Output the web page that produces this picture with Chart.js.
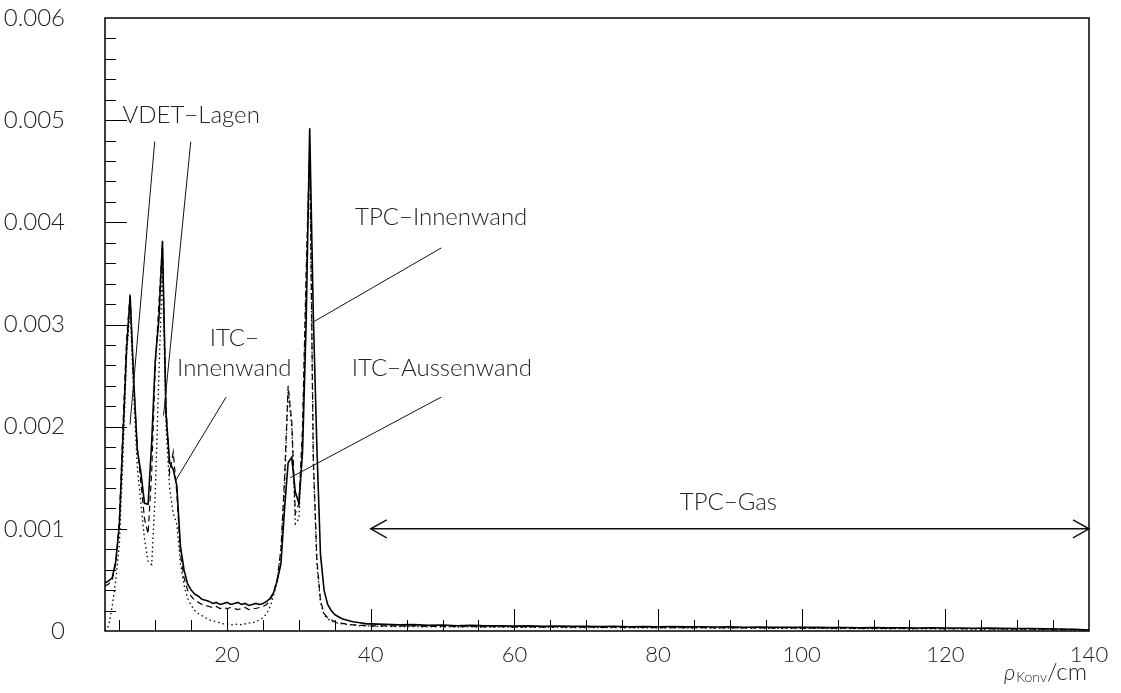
<!DOCTYPE html>
<html>
<head>
<meta charset="utf-8">
<script src="https://cdn.jsdelivr.net/npm/chart.js@4/dist/chart.umd.min.js"></script>
<style>
  html, body { margin: 0; padding: 0; background: #fff; }
  #wrap { width: 1121px; height: 693px; }
</style>
</head>
<body>
<div id="wrap"><canvas id="rhoChart"></canvas></div>
<script>
// rho_Konv bin centres (cm)
const rho = [
  3, 3.5, 4, 4.5, 5, 5.5, 6, 6.5, 7, 7.5, 8, 8.5, 9, 9.5, 10, 10.5, 11, 11.5, 12, 12.5,
  13, 13.5, 14, 14.5, 15, 15.5, 16, 16.5, 17, 17.5, 18, 18.5, 19, 19.5, 20, 20.5, 21, 21.5, 22, 22.5,
  23, 23.5, 24, 24.5, 25, 25.5, 26, 26.5, 27, 27.5, 28, 28.5, 29, 29.5, 30, 30.5, 31, 31.5, 32, 32.5,
  33, 33.5, 34, 34.5, 35, 35.5, 36, 36.5, 37, 37.5, 38, 38.5, 39, 39.5, 40,
  42, 44, 46, 48, 50, 52, 54, 56, 58, 60, 62, 64, 66, 68, 70, 72, 74, 76, 78, 80,
  82, 84, 86, 88, 90, 92, 94, 96, 98, 100, 102, 104, 106, 108, 110, 112, 114, 116, 118, 120,
  122, 124, 126, 128, 130, 132, 134, 136, 138, 140
];

// solid histogram
const solid = [
  0.00047, 0.00049, 0.00052, 0.00068, 0.00104, 0.00190, 0.00275, 0.00328, 0.00246, 0.00177,
  0.00155, 0.00125, 0.00124, 0.00185, 0.00265, 0.00305, 0.00382, 0.00212, 0.00165, 0.00158,
  0.00142, 0.00083, 0.00060, 0.00046, 0.00040, 0.00036, 0.00034, 0.00031, 0.00030, 0.00029,
  0.00027, 0.00028, 0.00026, 0.00027, 0.00028, 0.00026, 0.00027, 0.00028, 0.00026, 0.00027,
  0.00025, 0.00026, 0.00027, 0.00026, 0.00027, 0.00029, 0.00032, 0.00038, 0.00050, 0.00066,
  0.00120, 0.00165, 0.00170, 0.00136, 0.00125, 0.00175, 0.00300, 0.00492, 0.00310, 0.00180,
  0.00075, 0.00040, 0.00026, 0.00020, 0.00016, 0.00014, 0.00012, 0.00011, 0.00010, 0.00009,
  0.000085, 0.00008, 0.000075, 0.00007, 0.00007,
  0.000065, 0.00006, 0.000062, 0.000055, 0.000058, 0.000052, 0.000055, 0.00005, 0.000052, 0.000048,
  0.00005, 0.000046, 0.000048, 0.000045, 0.000047, 0.000044, 0.000045, 0.000042, 0.000044, 0.000041,
  0.000043, 0.00004, 0.000041, 0.000039, 0.00004, 0.000037, 0.000039, 0.000036, 0.000037, 0.000035,
  0.000036, 0.000033, 0.000034, 0.000032, 0.000033, 0.000031, 0.000032, 0.00003, 0.000031, 0.000029,
  0.00003, 0.000027, 0.000028, 0.000026, 0.000025, 0.000024, 0.000022, 0.00002, 0.000017, 0.00001
];

// dashed histogram
const dashed = [
  0.00044, 0.00046, 0.00050, 0.00066, 0.00110, 0.00200, 0.00285, 0.00330, 0.00240, 0.00180,
  0.00145, 0.00110, 0.00095, 0.00155, 0.00260, 0.00320, 0.00378, 0.00220, 0.00155, 0.00175,
  0.00135, 0.00075, 0.00052, 0.00040, 0.00034, 0.00030, 0.00028, 0.00026, 0.00025, 0.00024,
  0.00023, 0.00024, 0.00022, 0.00023, 0.00022, 0.00023, 0.00022, 0.00021, 0.00022, 0.00023,
  0.00021, 0.00022, 0.00022, 0.00023, 0.00024, 0.00026, 0.00030, 0.00038, 0.00052, 0.00080,
  0.00150, 0.00240, 0.00205, 0.00115, 0.00125, 0.00200, 0.00350, 0.00475, 0.00170, 0.00070,
  0.00030, 0.00017, 0.00013, 0.00011, 0.00009, 0.00008, 0.000075, 0.00007, 0.000065, 0.00006,
  0.00006, 0.000055, 0.000055, 0.00005, 0.00005,
  0.00005, 0.000048, 0.00005, 0.000045, 0.000047, 0.000043, 0.000045, 0.000041, 0.000043, 0.00004,
  0.000041, 0.000038, 0.00004, 0.000037, 0.000038, 0.000036, 0.000037, 0.000034, 0.000036, 0.000033,
  0.000034, 0.000032, 0.000033, 0.000031, 0.000032, 0.00003, 0.000031, 0.000029, 0.00003, 0.000028,
  0.000029, 0.000027, 0.000028, 0.000026, 0.000027, 0.000025, 0.000026, 0.000024, 0.000025, 0.000023,
  0.000024, 0.000022, 0.000022, 0.00002, 0.00002, 0.000018, 0.000017, 0.000015, 0.000012, 0.000008
];

// dotted histogram
const dotted = [
  0.00000, 0.00005, 0.00024, 0.00050, 0.00085, 0.00170, 0.00270, 0.00315, 0.00230, 0.00160,
  0.00125, 0.00090, 0.00068, 0.00065, 0.00135, 0.00250, 0.00355, 0.00200, 0.00140, 0.00115,
  0.00105, 0.00066, 0.00045, 0.00032, 0.00025, 0.00020, 0.00017, 0.00015, 0.00013, 0.00011,
  0.00010, 0.00009, 0.00008, 0.00007, 0.00007, 0.00006, 0.00006, 0.00007, 0.00006, 0.00007,
  0.00008, 0.00008, 0.00009, 0.00011, 0.00013, 0.00017, 0.00024, 0.00035, 0.00050, 0.00080,
  0.00140, 0.00235, 0.00200, 0.00105, 0.00110, 0.00190, 0.00340, 0.00470, 0.00165, 0.00065,
  0.00028, 0.00016, 0.00012, 0.00010, 0.000085, 0.000075, 0.00007, 0.000065, 0.00006, 0.00006,
  0.000055, 0.00005, 0.00005, 0.00005, 0.000045,
  0.000045, 0.000043, 0.000044, 0.00004, 0.000042, 0.000039, 0.00004, 0.000037, 0.000038, 0.000036,
  0.000037, 0.000035, 0.000036, 0.000033, 0.000034, 0.000032, 0.000033, 0.000031, 0.000032, 0.00003,
  0.000031, 0.000029, 0.00003, 0.000028, 0.000029, 0.000027, 0.000028, 0.000026, 0.000027, 0.000025,
  0.000026, 0.000024, 0.000025, 0.000023, 0.000024, 0.000022, 0.000023, 0.000021, 0.000022, 0.00002,
  0.00002, 0.000019, 0.000018, 0.000017, 0.000016, 0.000015, 0.000013, 0.000011, 0.000009, 0.000006
];

// axis tick labels
const xTickValues = [20, 40, 60, 80, 100, 120, 140];
const yTickValues = [0, 0.001, 0.002, 0.003, 0.004, 0.005, 0.006];

// annotation texts, placed in data coordinates
const noteTexts = ['VDET−Lagen', 'ITC−', 'Innenwand', 'TPC−Innenwand', 'ITC−Aussenwand', 'TPC−Gas'];
const noteX = [15.0, 21.0, 21.0, 49.8, 49.9, 89.8];
const noteY = [0.00505, 0.00287, 0.00257, 0.00405, 0.00257, 0.00126];

// leader lines [x1, y1, x2, y2]
const leaders = [
  [9.92, 0.00479, 6.48, 0.00202],
  [14.94, 0.00479, 11.15, 0.00211],
  [19.86, 0.00229, 12.89, 0.00148],
  [49.83, 0.00375, 31.64, 0.00301],
  [49.83, 0.00229, 28.78, 0.00150]
];
const gasRange = [40, 140, 0.001];

const FONT = "'Lato', 'Liberation Sans', sans-serif";
const INK = '#222';

const toPoints = (ys) => rho.map((x, i) => ({ x: x, y: ys[i] }));

// frame, inward ticks and annotations
const decorPlugin = {
  id: 'decor',
  afterDatasetsDraw(chart) {
    const { ctx, chartArea: a, scales: { x, y } } = chart;
    ctx.save();
    ctx.strokeStyle = '#000';
    ctx.lineWidth = 1.5;
    ctx.strokeRect(a.left, a.top, a.right - a.left, a.bottom - a.top);

    // x ticks, every 5 cm, long at multiples of 20
    ctx.lineWidth = 1;
    ctx.beginPath();
    for (let v = 5; v < 140; v += 5) {
      const px = Math.round(x.getPixelForValue(v)) + 0.5;
      const len = v % 20 === 0 ? 22 : 11;
      ctx.moveTo(px, a.bottom);
      ctx.lineTo(px, a.bottom - len);
    }
    // y ticks, every 0.0002, long at 0.001 steps
    for (let k = 1; k < 30; k++) {
      const py = Math.round(y.getPixelForValue(k * 0.0002)) + 0.5;
      const len = k % 5 === 0 ? 22 : 11;
      ctx.moveTo(a.left, py);
      ctx.lineTo(a.left + len, py);
    }
    ctx.stroke();

    // leader lines
    ctx.strokeStyle = '#111';
    ctx.lineWidth = 1;
    ctx.beginPath();
    leaders.forEach(([x1, y1, x2, y2]) => {
      ctx.moveTo(x.getPixelForValue(x1), y.getPixelForValue(y1));
      ctx.lineTo(x.getPixelForValue(x2), y.getPixelForValue(y2));
    });
    ctx.stroke();

    // TPC-Gas double arrow
    const ax1 = x.getPixelForValue(gasRange[0]);
    const ax2 = x.getPixelForValue(gasRange[1]);
    const ay = y.getPixelForValue(gasRange[2]);
    ctx.lineWidth = 1.5;
    ctx.beginPath();
    ctx.moveTo(ax1, ay);
    ctx.lineTo(ax2, ay);
    ctx.moveTo(ax1 + 16, ay - 9);
    ctx.lineTo(ax1, ay);
    ctx.lineTo(ax1 + 16, ay + 9);
    ctx.moveTo(ax2 - 16, ay - 9);
    ctx.lineTo(ax2, ay);
    ctx.lineTo(ax2 - 16, ay + 9);
    ctx.stroke();

    // annotation texts
    ctx.fillStyle = INK;
    ctx.font = `300 24px ${FONT}`;
    ctx.textAlign = 'center';
    ctx.textBaseline = 'middle';
    noteTexts.forEach((t, i) => {
      ctx.fillText(t, x.getPixelForValue(noteX[i]), y.getPixelForValue(noteY[i]));
    });

    // axis title rho_Konv / cm
    const base = a.bottom + 49;
    ctx.textAlign = 'left';
    ctx.textBaseline = 'alphabetic';
    const partRho = 'ρ', partSub = 'Konv', partUnit = '/cm';
    ctx.font = `italic 300 22px ${FONT}`;
    const wRho = ctx.measureText(partRho).width;
    ctx.font = `300 14px ${FONT}`;
    const wSub = ctx.measureText(partSub).width;
    ctx.font = `300 24px ${FONT}`;
    const wUnit = ctx.measureText(partUnit).width;
    let tx = a.right - 2 - (wRho + wSub + wUnit + 1);
    ctx.font = `italic 300 22px ${FONT}`;
    ctx.fillText(partRho, tx, base);
    tx += wRho + 1;
    ctx.font = `300 14px ${FONT}`;
    ctx.fillText(partSub, tx, base + 2);
    tx += wSub;
    ctx.font = `300 24px ${FONT}`;
    ctx.fillText(partUnit, tx, base);
    ctx.restore();
  }
};

const lineSet = (label, ys, dash, width) => ({
  label: label,
  data: toPoints(ys),
  showLine: true,
  borderColor: '#000',
  borderWidth: width,
  borderDash: dash,
  pointRadius: 0,
  tension: 0,
  fill: false
});

const ctx = document.getElementById('rhoChart').getContext('2d');
new Chart(ctx, {
  type: 'scatter',
  data: {
    datasets: [
      lineSet('solid', solid, [], 1.6),
      lineSet('dashed', dashed, [6, 4], 1.2),
      lineSet('dotted', dotted, [1.5, 3], 1.3)
    ]
  },
  options: {
    responsive: true,
    maintainAspectRatio: false,
    animation: false,
    layout: { padding: { top: 18, right: 32, left: 0, bottom: 0 } },
    plugins: {
      legend: { display: false },
      tooltip: { enabled: false }
    },
    scales: {
      x: {
        type: 'linear',
        min: 3,
        max: 140,
        afterBuildTicks: (scale) => { scale.ticks = xTickValues.map(v => ({ value: v })); },
        afterFit: (scale) => { scale.height = 62; },
        grid: { display: false, drawTicks: false },
        border: { display: false },
        ticks: {
          color: INK,
          padding: 11,
          maxRotation: 0,
          font: { family: FONT, size: 22, weight: '300' }
        }
      },
      y: {
        min: 0,
        max: 0.006,
        afterBuildTicks: (scale) => { scale.ticks = yTickValues.map(v => ({ value: v })); },
        afterFit: (scale) => {
          // label padding should not push the plot frame down
          scale.width = 105;
          scale.paddingTop = 0;
          scale.paddingBottom = 0;
        },
        grid: { display: false, drawTicks: false },
        border: { display: false },
        ticks: {
          color: INK,
          padding: 40,
          font: { family: FONT, size: 24, weight: '300' },
          callback: (v) => (v === 0 ? '0' : v.toFixed(3))
        }
      }
    }
  },
  plugins: [decorPlugin]
});
</script>
</body>
</html>
